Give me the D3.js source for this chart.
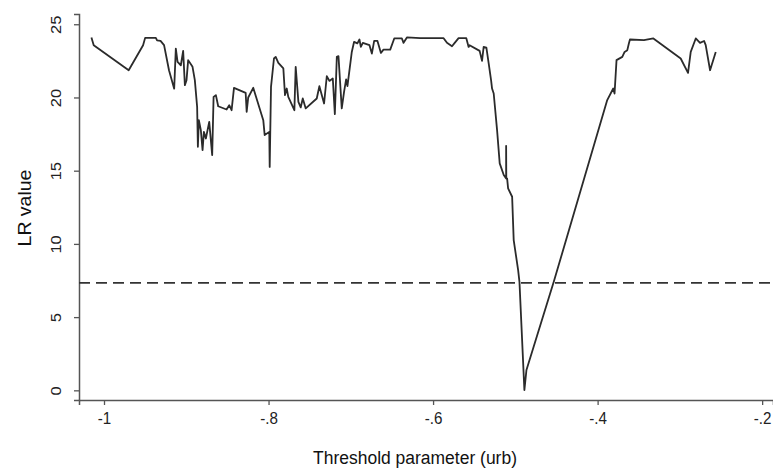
<!DOCTYPE html>
<html>
<head>
<meta charset="utf-8">
<script src="https://cdn.jsdelivr.net/npm/d3@7"></script>
<style>
  body { margin: 0; background: #fff; }
  svg { display: block; font-family: "Liberation Sans", Arial, sans-serif; }
</style>
</head>
<body>
<div id="chart"></div>
<script>
// threshold parameter (urb) and LR value
const thresholds = [
  -1.0153, -1.0125, -0.970, -0.9525, -0.950, -0.937, -0.9355, -0.9313, -0.927, -0.921,
  -0.9147, -0.9127, -0.9106, -0.9066, -0.9038, -0.9017, -0.8997, -0.8977, -0.8924, -0.8896,
  -0.8868, -0.8859, -0.8847, -0.8823, -0.8802, -0.8786, -0.8762, -0.8721, -0.8685, -0.8668,
  -0.864, -0.8612, -0.851, -0.8478, -0.8449, -0.842, -0.8278, -0.8266, -0.8247, -0.8186,
  -0.8064, -0.8047, -0.7991, -0.7986, -0.797, -0.7934, -0.7913, -0.7881, -0.782, -0.78,
  -0.7779, -0.776, -0.7686, -0.767, -0.7637, -0.7609, -0.7584, -0.7548, -0.7414, -0.7382,
  -0.7325, -0.7292, -0.726, -0.7219, -0.7194, -0.717, -0.715, -0.711, -0.7082, -0.7057,
  -0.7041, -0.6988, -0.696, -0.692, -0.6895, -0.6878, -0.6854, -0.6773, -0.6744, -0.6716,
  -0.6676, -0.6634, -0.6603, -0.6521, -0.6472, -0.6379, -0.6359, -0.6318, -0.6156, -0.5872,
  -0.5831, -0.577, -0.5742, -0.569, -0.5596, -0.5568, -0.5556, -0.5434, -0.5405, -0.5385,
  -0.5352, -0.5324, -0.5295, -0.5283, -0.5263, -0.5222, -0.519, -0.5141, -0.5112, -0.5112,
  -0.511, -0.51, -0.5088, -0.5039, -0.502, -0.4966, -0.495, -0.489, -0.4865, -0.4533,
  -0.3883, -0.381, -0.3794, -0.377, -0.37, -0.3672, -0.3639, -0.362, -0.3607, -0.3437,
  -0.3322, -0.299, -0.2901, -0.2868, -0.2807, -0.2755, -0.2706, -0.2686, -0.2633, -0.2564
];
const lrValues = [
  24.1, 23.57, 21.86, 23.57, 24.07, 24.07, 23.9, 23.86, 23.57, 21.86,
  20.6, 23.34, 22.43, 22.2, 23.18, 20.84, 21.18, 22.55, 22.09, 21.18,
  19.36, 16.63, 18.45, 17.77, 16.4, 17.65, 17.2, 18.33, 16.06, 20.04,
  20.16, 19.4, 19.18, 19.47, 19.13, 20.66, 20.31, 19.02, 20.0, 20.66,
  18.45, 17.43, 17.65, 15.26, 20.72, 22.66, 22.77, 22.36, 21.98, 20.16,
  20.61, 20.04, 19.13, 22.09, 19.7, 19.32, 19.93, 19.25, 19.93, 20.77,
  19.59, 21.45, 21.13, 21.3, 18.86, 22.77, 22.82, 19.25, 20.38, 21.23,
  20.77, 23.11, 23.8, 23.69, 23.96, 23.45, 23.73, 23.57, 23.0, 23.86,
  23.86, 23.04, 23.27, 23.27, 24.03, 24.03, 23.73, 24.1, 24.05, 24.05,
  23.73, 23.5, 23.69, 24.05, 24.05, 23.45, 23.57, 23.18, 22.5, 23.45,
  23.41, 22.32, 21.18, 20.61, 20.27, 17.77, 15.5, 14.7, 14.47, 16.7,
  14.47, 14.47, 13.79, 13.22, 10.26, 8.21, 7.41, 0.02, 1.39, 7.41,
  19.82, 20.61, 20.27, 22.55, 22.77, 23.11, 23.23, 23.69, 23.96, 23.91,
  24.03, 22.66, 21.68, 23.11, 24.03, 23.73, 23.86, 23.57, 21.86, 23.11
];
const criticalValue = 7.34;
const xTicks = [-1, -0.8, -0.6, -0.4, -0.2];
const xTickLabels = ["-1", "-.8", "-.6", "-.4", "-.2"];
const yTicks = [0, 5, 10, 15, 20, 25];

const width = 773;
const height = 469;
const margin = { top: 14, right: 0, bottom: 69, left: 79 };
// the original figure is a little squeezed sideways
const squeeze = 0.92;

const svg = d3.select("#chart").append("svg")
  .attr("width", width)
  .attr("height", height);

const x = d3.scaleLinear()
  .domain([-1.0304, -0.1868])
  .range([margin.left, width - margin.right]);

const y = d3.scaleLinear()
  .domain([-0.66, 25.7])
  .range([height - margin.bottom, margin.top]);

const axisColor = "#555";

// x axis
const xAxis = svg.append("g")
  .attr("transform", `translate(0,${height - margin.bottom})`)
  .call(d3.axisBottom(x).tickValues(xTicks)
    .tickFormat((d, i) => xTickLabels[i])
    .tickSizeOuter(0).tickSize(5).tickPadding(7));
xAxis.select(".domain").attr("stroke", axisColor).attr("stroke-width", 1.5);
xAxis.selectAll(".tick line").attr("stroke", axisColor).attr("stroke-width", 1.3);
xAxis.selectAll(".tick text")
  .attr("fill", "#222")
  .attr("transform", `scale(${squeeze},1)`)
  .style("font-size", "16.5px");

// y axis, labels turned like Stata
const yAxis = svg.append("g")
  .attr("transform", `translate(${margin.left},0)`)
  .call(d3.axisLeft(y).tickValues(yTicks).tickSizeOuter(0).tickSize(5));
yAxis.select(".domain").attr("stroke", axisColor).attr("stroke-width", 1.5);
yAxis.selectAll(".tick line").attr("stroke", axisColor).attr("stroke-width", 1.3);
yAxis.selectAll(".tick text")
  .attr("fill", "#222")
  .attr("x", null)
  .attr("text-anchor", "middle")
  .attr("transform", `translate(-23,0) rotate(-90) scale(1,${squeeze})`)
  .attr("dy", "0.35em")
  .style("font-size", "16.5px");

// axis titles
svg.append("text")
  .attr("transform", `translate(415,464) scale(${squeeze},1)`)
  .attr("text-anchor", "middle")
  .attr("fill", "#111")
  .style("font-size", "19px")
  .text("Threshold parameter (urb)");

svg.append("text")
  .attr("transform", `translate(31,208) rotate(-90) scale(1,${squeeze})`)
  .attr("text-anchor", "middle")
  .attr("fill", "#111")
  .style("font-size", "19.5px")
  .text("LR value");

// critical value line
svg.append("line")
  .attr("x1", x.range()[0])
  .attr("x2", x.range()[1])
  .attr("y1", y(criticalValue))
  .attr("y2", y(criticalValue))
  .attr("stroke", "#333")
  .attr("stroke-width", 1.6)
  .attr("stroke-dasharray", "11,6");

// LR curve
const points = thresholds.map((t, i) => ({ t: t, lr: lrValues[i] }));
const line = d3.line().x(d => x(d.t)).y(d => y(d.lr));

svg.append("path")
  .datum(points)
  .attr("d", line)
  .attr("fill", "none")
  .attr("stroke", "#2b2b2b")
  .attr("stroke-width", 1.8)
  .attr("stroke-linejoin", "round");
</script>
</body>
</html>
